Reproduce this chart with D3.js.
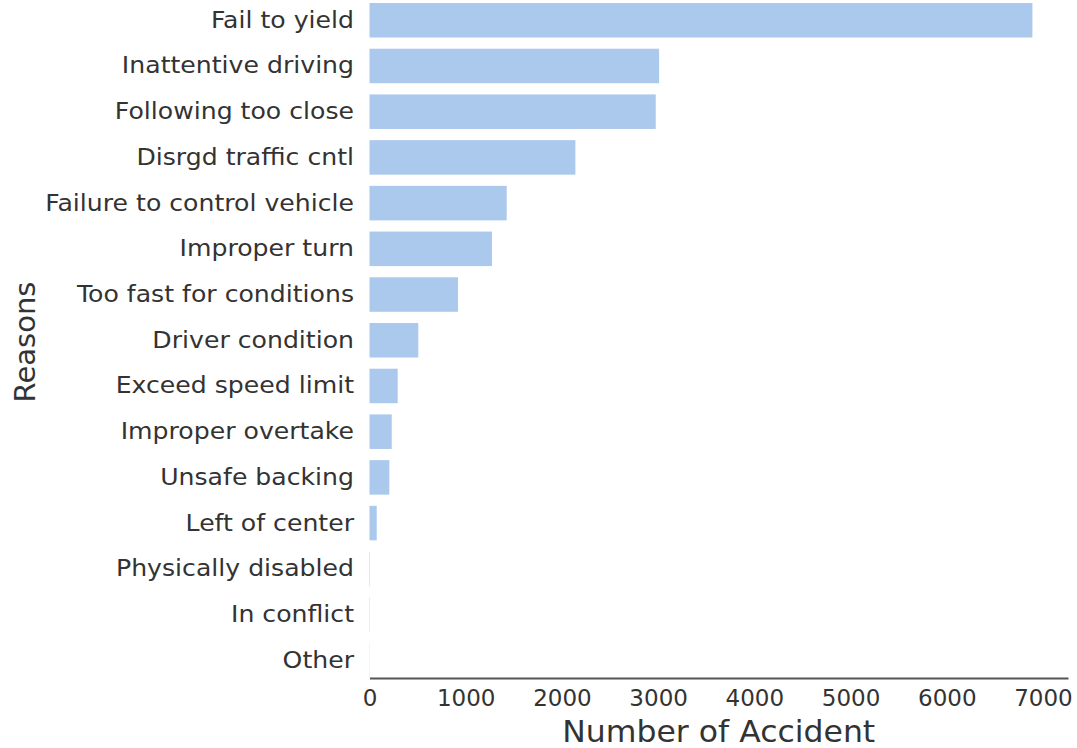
<!DOCTYPE html>
<html><head><meta charset="utf-8">
<script src="https://cdn.jsdelivr.net/npm/d3@7"></script>
<style>body{margin:0;background:#fff}svg{display:block}</style>
</head><body>
<script>
const reasons = ["Fail to yield","Inattentive driving","Following too close","Disrgd traffic cntl","Failure to control vehicle","Improper turn","Too fast for conditions","Driver condition","Exceed speed limit","Improper overtake","Unsafe backing","Left of center","Physically disabled","In conflict","Other"];
const accidents = [6890,3010,2975,2140,1426,1273,920,507,293,231,206,75,4,3,2];
const xTicks = [0,1000,2000,3000,4000,5000,6000,7000];

const W = 1077, H = 748;
const svg = d3.select("body").append("svg").attr("width", W).attr("height", H);
const font = "DejaVu Sans, sans-serif";

const x = d3.scaleLinear().domain([0, 7260]).range([369.5, 1068]);
const y = d3.scaleBand().domain(reasons).range([-2.6, 683.1]).paddingInner(0.245).paddingOuter(0.1225);

svg.append("g").selectAll("rect").data(reasons).join("rect")
  .attr("x", x(0))
  .attr("y", d => y(d))
  .attr("width", (d,i) => x(accidents[i]) - x(0))
  .attr("height", y.bandwidth())
  .attr("fill", "#abc9ec");

// y labels
const sx = 1.08;
const yAxis = d3.axisLeft(y).tickSize(0).tickPadding(0);
const gy = svg.append("g").attr("transform", `translate(${x(0)},0)`).call(yAxis);
gy.select(".domain").remove();
gy.selectAll("text").attr("font-family", font).attr("font-size", 23.3).attr("fill", "#333")
  .attr("x", -15.5 / sx).attr("transform", `scale(${sx},1)`);

// x axis
const xAxis = d3.axisBottom(x).tickValues(xTicks).tickSize(0).tickPadding(12).tickFormat(d3.format("d"));
const gx = svg.append("g").attr("transform", "translate(0,678)").call(xAxis);
gx.select(".domain").attr("stroke", "#555").attr("stroke-width", 1.8);
gx.selectAll("text").attr("font-family", font).attr("font-size", 23).attr("fill", "#333");

const cx = (x.range()[0] + x.range()[1]) / 2;
svg.append("text").attr("transform", `translate(${cx},742) scale(1.05,1)`)
  .attr("text-anchor", "middle").attr("font-family", font).attr("font-size", 30).attr("fill", "#333")
  .text("Number of Accident");

svg.append("text").attr("transform", `translate(35,342) rotate(-90)`)
  .attr("text-anchor", "middle").attr("font-family", font).attr("font-size", 29).attr("fill", "#333")
  .text("Reasons");
</script>
</body></html>
